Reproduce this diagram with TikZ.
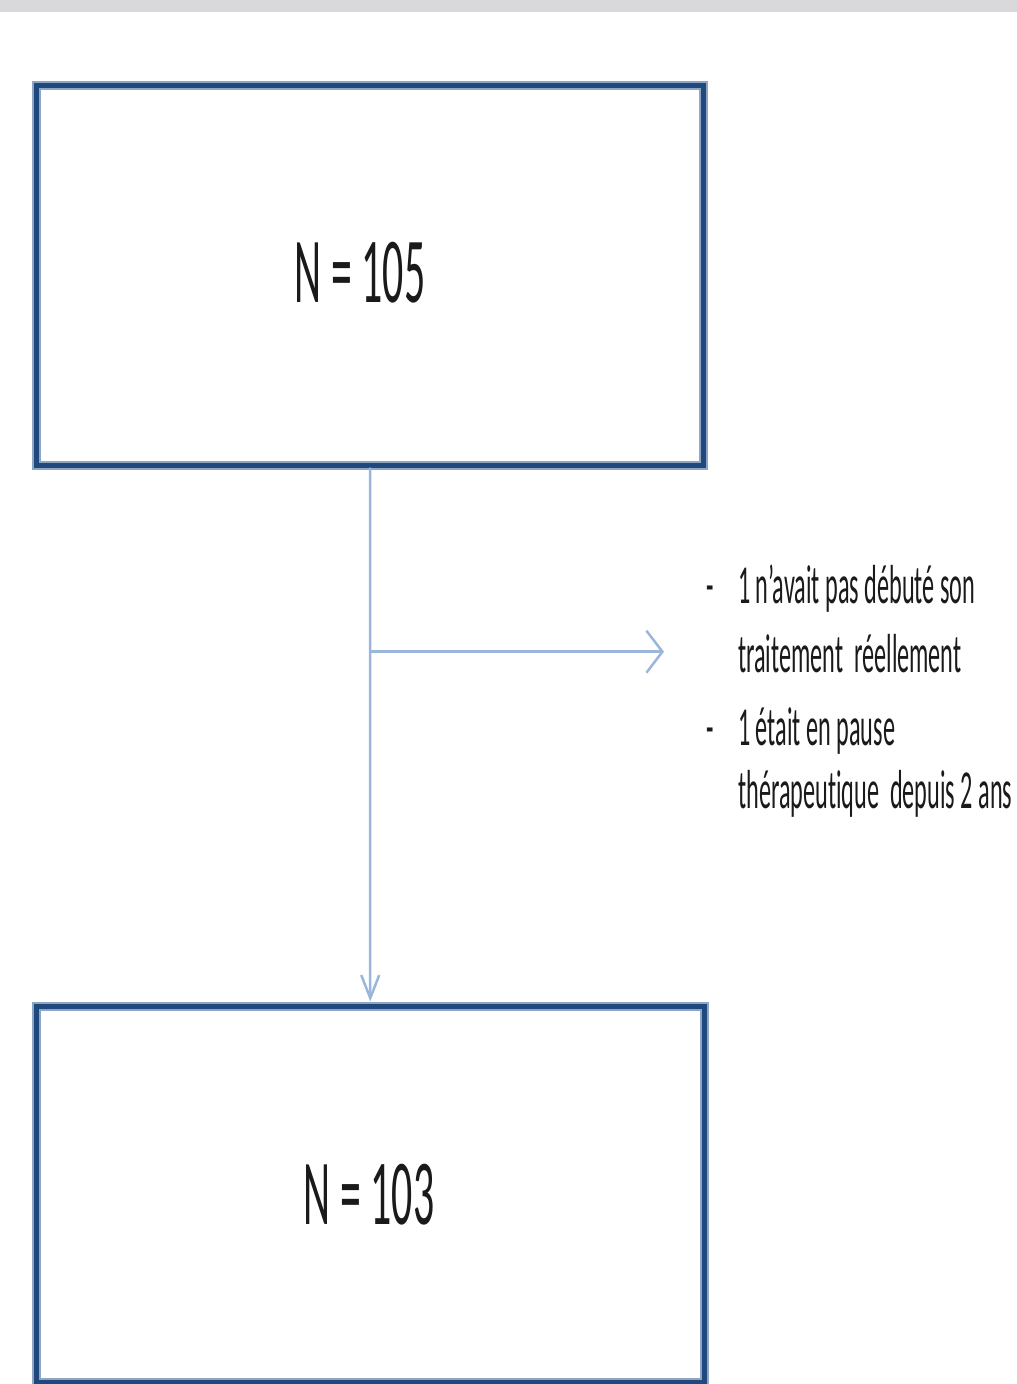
\documentclass[tikz,border=0pt]{standalone}
\usepackage{fontspec}
\usepackage{graphicx}
\setmainfont{Carlito}[Ligatures={NoCommon}]
\usetikzlibrary{arrows.meta}
\definecolor{boxblue}{HTML}{1F497D}
\definecolor{haloblue}{HTML}{8EA5C3}
\definecolor{arrowblue}{HTML}{9AB6DA}
\definecolor{topgray}{HTML}{D9D9DB}
\definecolor{txt}{HTML}{1A1A1A}
\begin{document}
\begin{tikzpicture}[x=1pt,y=-1pt,
  flowbox/.style={rectangle, inner sep=0pt, draw=boxblue, line width=5pt,
    preaction={draw=haloblue, line width=9pt}},
  bignum/.style={inner sep=0pt, anchor=base, text=txt,
    font=\fontsize{93}{100}\selectfont},
  note/.style={inner sep=0pt, anchor=base west, text=txt,
    font=\fontsize{55}{60}\selectfont},
  conn/.style={draw=arrowblue, line width=2.5pt}]
\useasboundingbox (0,0) rectangle (1017,1384);
\fill[topgray] (0,0) rectangle (1017,12);
% boxes
\node[flowbox, minimum width=667pt, minimum height=379.5pt] (box1) at (370,275.25) {};
\node[flowbox, minimum width=667.5pt, minimum height=376pt] (box2) at (370.25,1194) {};
% labels
\node[bignum] (n105) at (360,302) {\scalebox{0.45}[1]{N = 105}};
\node[bignum] (n103) at (369,1224) {\scalebox{0.45}[1]{N = 103}};
% connectors
\coordinate (split) at (370,651.7);
\coordinate (branchend) at (664,651.7);
\draw[conn, -{Straight Barb[length=23pt, width=18pt]}, shorten >=2pt] (box1.south) -- (box2.north);
\draw[conn, -{Straight Barb[length=16pt, width=42pt]}] (split) -- (branchend);
% side notes
\node[note] (b1) at (706,603) {\scalebox{0.44}[1]{-}};
\node[note] (l1) at (738,603) {\scalebox{0.44}[1]{1 n’avait pas débuté son}};
\node[note] (l2) at (738,672) {\scalebox{0.44}[1]{traitement~ réellement}};
\node[note] (b2) at (706,745) {\scalebox{0.44}[1]{-}};
\node[note] (l3) at (738,745) {\scalebox{0.44}[1]{1 était en pause}};
\node[note] (l4) at (738,808) {\scalebox{0.44}[1]{thérapeutique~ depuis 2 ans}};
\end{tikzpicture}
\end{document}
